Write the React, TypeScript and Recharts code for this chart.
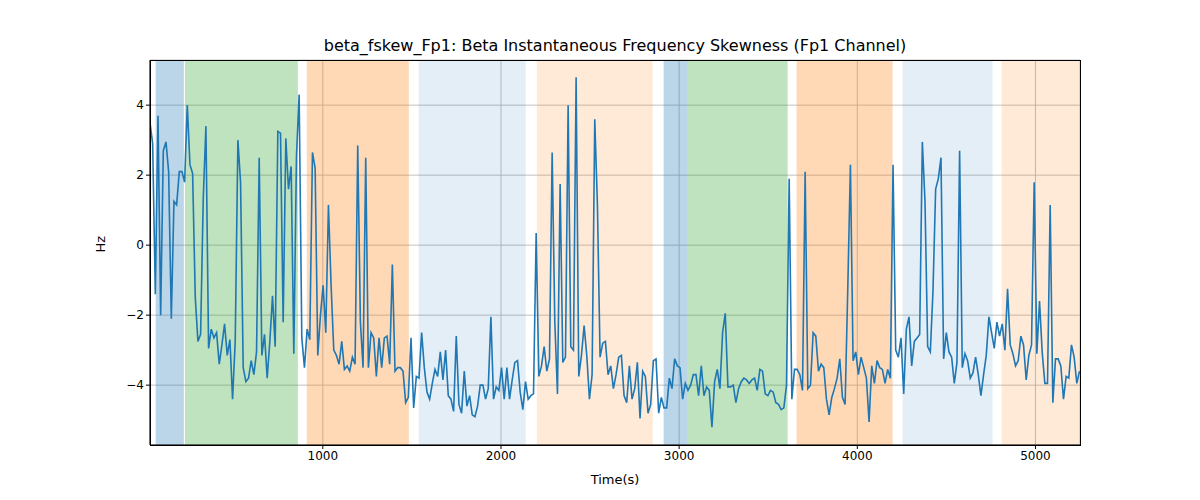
import { LineChart, Line, XAxis, YAxis, CartesianGrid, ReferenceArea } from 'recharts'

const hz = [
  3.5, 2.9, -1.4, 3.7, -2.0, 2.7, 2.95, 2.1, -2.1, 1.25, 1.15, 2.1, 2.1, 1.8, 4.0, 2.3, 2.05, -1.5, -2.75, -2.55,
  1.35, 3.4, -2.95, -2.4, -2.65, -2.5, -3.4, -2.85, -2.25, -3.15, -2.7, -4.4, -2.75, 3.0, 1.8, -3.5, -3.9, -3.8, -3.3, -3.7,
  -3.05, 2.5, -3.15, -2.55, -3.8, -2.75, -1.45, -2.9, 3.25, 3.2, -2.2, 3.05, 1.6, 2.25, -3.1, 2.55, 4.3, -2.65, -3.5, -2.4,
  -2.7, 2.65, 2.2, -3.15, -2.0, -1.15, -2.5, 1.15, -1.15, -3.0, -3.15, -3.4, -2.75, -3.55, -3.45, -3.6, -3.2, -3.4, 2.85, -2.2,
  -3.5, 2.5, -3.5, -2.5, -2.65, -3.75, -2.65, -3.5, -2.65, -2.6, -3.4,
  -0.55, -3.6, -3.5, -3.5, -3.6, -4.5, -4.35, -2.65, -4.65, -3.75, -3.8, -2.5, -3.5, -4.2, -4.4, -3.95, -3.55, -3.75, -3.05, -3.85,
  -3.0, -4.3, -4.4, -4.75, -2.6, -4.55, -4.8, -3.6, -4.6, -4.3, -4.85, -4.9, -4.6, -4.0, -4.0, -4.4, -4.1, -2.05, -4.4, -4.05,
  -4.15, -3.5, -4.4, -3.5, -4.4, -3.85, -3.35, -3.3, -4.2, -4.7, -3.9, -4.4, -4.3, -4.25, 0.35, -3.75, -3.45, -2.9, -3.6, -3.25,
  2.65, -2.2, -4.25, 1.75, -3.35, -3.2, 4.0, -2.9, -3.0, 4.8, -3.75, -3.15, -2.3, -3.15, -4.4, -3.7, 3.6, 1.15, -3.2, -2.8,
  -2.75, -3.7, -3.45, -4.1, -3.7, -3.2, -3.15, -4.3, -4.5, -3.45,
  -4.4, -4.1, -3.35, -4.95, -3.6, -3.75, -4.8, -4.55, -3.3, -3.25, -4.8, -4.35, -4.65, -4.65, -3.8, -4.1, -3.25, -3.45, -3.5, -4.4,
  -3.95, -4.15, -4.0, -3.7, -3.7, -4.3, -3.45, -4.3, -4.05, -4.15, -5.2, -3.9, -3.55, -4.1, -2.5, -1.95, -4.05, -4.05, -4.0, -4.5,
  -4.1, -3.9, -3.8, -3.85, -3.95, -3.85, -3.8, -4.15, -3.55, -3.6, -4.25, -4.3, -4.15, -4.2, -4.5, -4.55, -4.7, -4.65, -4.0, 1.9,
  -4.4, -3.55, -3.55, -3.7, -4.15, 2.1, -4.1, -4.0, -2.5, -2.6, -3.6, -3.4, -3.5, -4.4, -4.85, -4.35, -4.1, -3.8, -3.25, -4.35,
  -4.55, -1.25, 2.3, -3.3, -3.05, -3.7, -3.2, -3.5, -3.8, -5.05,
  -3.45, -3.95, -3.3, -3.5, -3.55, -3.95, -3.55, -3.8, 2.3, -3.0, -3.2, -2.65, -4.25, -2.4, -2.05, -3.45, -2.75, -2.65, -2.55, 2.95,
  1.25, -2.9, -3.05, -1.3, 1.6, 1.9, 2.5, -3.25, -2.5, -3.05, -3.2, -3.95, -3.35, 2.7, -3.5, -3.1, -3.3, -3.8, -3.65, -3.2,
  -3.7, -4.3, -3.7, -3.15, -2.05, -2.5, -2.95, -2.2, -2.6, -2.25, -3.0, -1.25, -2.85, -3.1, -3.45, -3.3, -2.6, -2.85, -3.85, -3.15,
  -2.85, 1.8, -3.1, -1.6, -3.05, -3.95, -3.95, 1.15, -4.5, -3.25, -3.25, -3.45, -4.4, -3.75, -3.8, -2.85, -3.2, -3.95, -3.6,
]
const tStart = 30
const tEnd = 5247
const data = hz.map((v, i) => ({ t: tStart + (i * (tEnd - tStart)) / (hz.length - 1), v }))

const bandStarts = [62, 226, 910, 1538, 2201, 2913, 3048, 3659, 4254, 4810]
const bandEnds = [220, 860, 1483, 2139, 2852, 3048, 3609, 4198, 4759, 5250]
const bandColors = ['#1f77b4', '#2ca02c', '#ff7f0e', '#1f77b4', '#ff7f0e', '#1f77b4', '#2ca02c', '#ff7f0e', '#1f77b4', '#ff7f0e']
const bandOpacity = [0.3, 0.3, 0.3, 0.12, 0.16, 0.3, 0.3, 0.3, 0.12, 0.16]

const xTicks = [1000, 2000, 3000, 4000, 5000]
const yTicks = [-4, -2, 0, 2, 4]

export default function App() {
  return (
    <div style={{ position: 'absolute', left: 0, top: 0, width: 1200, height: 500, background: '#fff', fontFamily: 'DejaVu Sans' }}>
      <div style={{ position: 'absolute', top: 36, width: 1230, textAlign: 'center', fontSize: 16 }}>
        beta_fskew_Fp1: Beta Instantaneous Frequency Skewness (Fp1 Channel)
      </div>
      <div style={{ position: 'absolute', top: 472, left: 150, width: 930, textAlign: 'center', fontSize: 13 }}>
        Time(s)
      </div>
      <LineChart width={1200} height={500} data={data} margin={{ top: 60, right: 120, bottom: 25, left: 0 }}>
        {bandStarts.map((s, i) => (
          <ReferenceArea key={i} x1={s} x2={bandEnds[i]} fill={bandColors[i]} fillOpacity={bandOpacity[i]} stroke="none" ifOverflow="hidden" />
        ))}
        <CartesianGrid stroke="#b0b0b0" strokeWidth={0.8} />
        <XAxis dataKey="t" type="number" domain={[30, 5250]} ticks={xTicks} allowDataOverflow height={30}
          stroke="#000" tick={{ fill: '#000', fontSize: 12 }} tickSize={4} />
        <YAxis type="number" domain={[-5.71, 5.29]} ticks={yTicks} width={150} allowDataOverflow
          stroke="#000" tick={{ fill: '#000', fontSize: 12 }} tickSize={4}
          tickFormatter={(v) => (v < 0 ? '\u2212' + Math.abs(v) : String(v))}
          label={{ value: 'Hz', angle: -90, position: 'insideLeft', offset: 100, fill: '#000', fontSize: 13 }} />
        <Line dataKey="v" stroke="#1f77b4" strokeWidth={1.6} dot={false} isAnimationActive={false} />
      </LineChart>
      <div style={{ position: 'absolute', left: 150, top: 60, width: 929, height: 384, border: '1px solid #000', pointerEvents: 'none' }} />
    </div>
  )
}
